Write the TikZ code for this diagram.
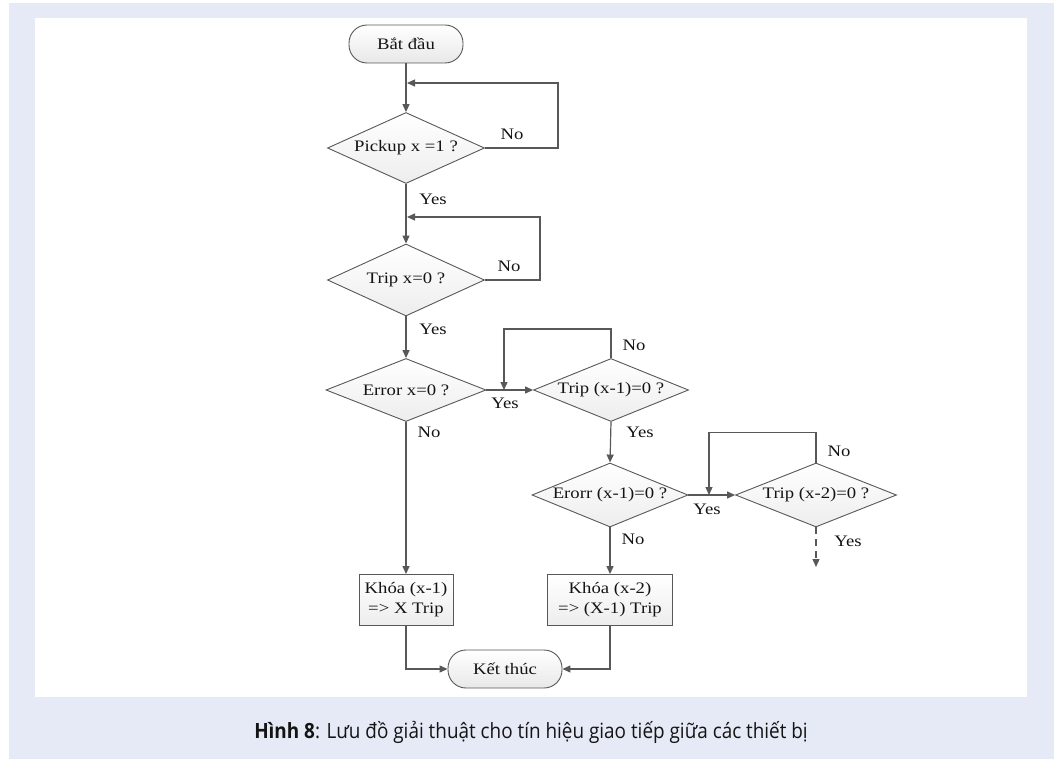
\documentclass[tikz,border=0pt]{standalone}
\usepackage{fontspec}
\usetikzlibrary{shapes.geometric,arrows.meta}
\newfontfamily\diagfont[FakeStretch=1.17]{Liberation Serif}
\newfontfamily\captfont[FakeStretch=0.9]{Open Sans}
\definecolor{pagebg}{RGB}{230,234,246}
\definecolor{lineclr}{RGB}{88,88,88}
\definecolor{txtclr}{RGB}{20,20,20}
\begin{document}
\begin{tikzpicture}[x=1pt,y=-1pt,
  every node/.style={font=\diagfont\fontsize{16}{20}\selectfont, text=txtclr},
  flow/.style={draw=lineclr, line width=1.2pt, -{Triangle[length=8pt,width=7pt]}},
  decision/.style={diamond, draw=lineclr, line width=0.9pt, top color=white,
    bottom color=gray!14, inner sep=0pt, shape aspect=2.45},
  terminal/.style={rectangle, rounded corners=18pt, draw=lineclr, line width=0.9pt,
    top color=white, bottom color=gray!18, minimum width=114pt, minimum height=38pt,
    inner sep=0pt},
  process/.style={rectangle, draw=lineclr, line width=0.9pt, top color=white,
    bottom color=gray!14, minimum height=51pt, inner sep=0pt, align=center},
  tag/.style={inner sep=0pt},
]
\useasboundingbox (0,0) rectangle (1057,759);
% page background and white panel
\fill[white] (0,0) rectangle (1057,759);
\fill[pagebg] (9,3) rectangle (1054,759);
\fill[white] (35,18) rectangle (1027,697);

% nodes
\node[terminal] (start) at (406,44) {Bắt đầu};
\node[decision, minimum width=157pt, minimum height=71pt] (d1) at (406,148) {Pickup x =1 ?};
\node[decision, minimum width=157pt, minimum height=72pt] (d2) at (406,280) {Trip x=0 ?};
\node[decision, minimum width=160pt, minimum height=63pt] (d3) at (406,390) {Error x=0 ?};
\node[decision, minimum width=155pt, minimum height=63pt] (d4) at (611,390) {Trip (x-1)=0 ?};
\node[decision, minimum width=156pt, minimum height=64pt] (d5) at (610,495) {Erorr (x-1)=0 ?};
\node[decision, minimum width=161pt, minimum height=64pt] (d6) at (816,495) {Trip (x-2)=0 ?};
\node[process, minimum width=94pt] (b1) at (406,600) {Khóa (x-1)\\=> X Trip};
\node[process, minimum width=125pt] (b2) at (610,600) {Khóa (x-2)\\=> (X-1) Trip};
\node[terminal] (stop) at (505,669) {Kết thúc};

% loop-back join points and the open end
\coordinate (j1) at (407,83);
\coordinate (j2) at (407,217);
\coordinate (j3) at (504,390);
\coordinate (j4) at (709,495);
\coordinate (tail) at (816,567);

% connectors
\draw[flow] (start.south) -- (d1.north);
\draw[flow] (d1.east) -- ++(73,0) |- (j1);
\draw[flow] (d1.south) -- (d2.north);
\draw[flow] (d2.east) -- ++(55,0) |- (j2);
\draw[flow] (d2.south) -- (d3.north);
\draw[flow] (d3.east) -- (d4.west);
\draw[flow] (d4.north) -- ++(0,-29) -| (j3);
\draw[flow] (d4.south) -- (d5.north);
\draw[flow] (d5.east) -- (d6.west);
\draw[flow] (d6.north) -- ++(0,-30) -| (j4);
\draw[flow, dash pattern=on 7pt off 5pt] (d6.south) -- (tail);
\draw[flow] (d3.south) -- (b1.north);
\draw[flow] (d5.south) -- (b2.north);
\draw[flow] (b1.south) |- (stop.west);
\draw[flow] (b2.south) |- (stop.east);

% branch labels
\node[tag] (n1) at (512,134) {No};
\node[tag] (y1) at (433,199) {Yes};
\node[tag] (n2) at (509,266) {No};
\node[tag] (y2) at (433,329) {Yes};
\node[tag] (n3) at (429,432) {No};
\node[tag] (y3) at (505,403) {Yes};
\node[tag] (n4) at (634,345) {No};
\node[tag] (y4) at (640,432) {Yes};
\node[tag] (y5) at (707,509) {Yes};
\node[tag] (n5) at (633,539) {No};
\node[tag] (n6) at (839,451) {No};
\node[tag] (y6) at (848,541) {Yes};

% caption
\node[font=\captfont\fontsize{21}{24}\selectfont, text=txtclr] (cap) at (531,732)
  {\textbf{Hình 8}: Lưu đồ giải thuật cho tín hiệu giao tiếp giữa các thiết bị};
\end{tikzpicture}
\end{document}
